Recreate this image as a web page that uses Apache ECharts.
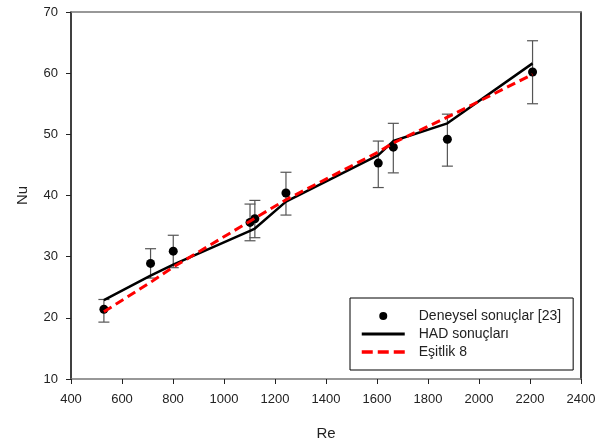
<!DOCTYPE html>
<html>
<head>
<meta charset="utf-8">
<script src="https://cdn.jsdelivr.net/npm/echarts@6/dist/echarts.min.js"></script>
<style>
  html, body { margin: 0; padding: 0; background: #fff; }
  #chart { width: 606px; height: 446px; }
</style>
</head>
<body>
<div id="chart"></div>
<script>
// Re değerleri
const reValues = [529, 712, 801, 1102, 1121, 1243, 1605, 1664, 1876, 2210]
// Deneysel sonuçlar ve hata çubukları
const nuExp = [21.4, 28.9, 30.9, 35.6, 36.2, 40.4, 45.3, 47.9, 49.2, 60.2]
const nuExpHigh = [23.0, 31.3, 33.5, 38.6, 39.2, 43.8, 48.9, 51.8, 53.3, 65.3]
const nuExpLow = [19.3, 26.5, 28.2, 32.6, 33.1, 36.8, 41.3, 43.7, 44.8, 55.0]
// HAD sonuçları
const nuHad = [22.9, 26.9, 28.7, 34.2, 34.6, 39.0, 46.6, 48.9, 51.8, 61.6]
// Eşitlik 8
const nuEq = [21.0, 25.8, 28.3, 35.8, 36.3, 39.3, 47.1, 48.6, 52.8, 59.8]

const xTicks = [400, 600, 800, 1000, 1200, 1400, 1600, 1800, 2000, 2200, 2400]
const yTicks = [10, 20, 30, 40, 50, 60, 70]

const chart = echarts.init(document.getElementById('chart'))

const labelStyle = { color: '#222', fontSize: 13, fontFamily: 'Liberation Sans, Arial' }

// hata çubukları
const errData = reValues.map((x, i) => [x, nuExpLow[i], nuExpHigh[i]])

const option = {
  animation: false,
  grid: { left: 71, right: 25, top: 12, bottom: 67 },
  legend: {
    orient: 'vertical',
    left: 350,
    top: 298,
    padding: [11, 12, 11, 10],
    itemWidth: 43,
    itemHeight: 8,
    itemGap: 4,
    borderColor: '#000',
    borderWidth: 1,
    textStyle: {
      color: '#222',
      fontSize: 14,
      fontFamily: 'Liberation Sans, Arial',
      lineHeight: 14,
      padding: [0, 0, 0, 9],
    },
    data: [
      { name: 'Deneysel sonuçlar [23]', icon: 'circle' },
      { name: 'HAD sonuçları', itemStyle: { opacity: 0 }, lineStyle: { width: 3 } },
      { name: 'Eşitlik 8', itemStyle: { opacity: 0 }, lineStyle: { width: 3.5, type: [11, 5] } },
    ],
  },
  xAxis: [
    {
      type: 'value',
      min: 400,
      max: 2400,
      interval: 200,
      name: 'Re',
      nameLocation: 'middle',
      nameGap: 47,
      nameTextStyle: { color: '#222', fontSize: 15, fontFamily: 'Liberation Sans, Arial' },
      axisLine: { lineStyle: { color: '#777', width: 1.5 } },
      axisTick: { length: 5, lineStyle: { color: '#222' } },
      axisLabel: { ...labelStyle, margin: 14, formatter: v => String(v) },
      splitLine: { show: false },
    },
    {
      type: 'value',
      position: 'top',
      min: 400,
      max: 2400,
      axisLine: { show: true, lineStyle: { color: '#777', width: 1.5 } },
      axisTick: { show: false },
      axisLabel: { show: false },
      splitLine: { show: false },
    },
  ],
  yAxis: [
    {
      type: 'value',
      min: 10,
      max: 70,
      interval: 10,
      name: 'Nu',
      nameLocation: 'middle',
      nameGap: 41,
      nameTextStyle: { color: '#222', fontSize: 15, fontFamily: 'Liberation Sans, Arial' },
      axisLine: { show: true, lineStyle: { color: '#000', width: 1.5 } },
      axisTick: { show: true, length: 5, lineStyle: { color: '#222' } },
      axisLabel: { ...labelStyle, margin: 13 },
      splitLine: { show: false },
    },
    {
      type: 'value',
      position: 'right',
      min: 10,
      max: 70,
      axisLine: { show: true, lineStyle: { color: '#000', width: 1.5 } },
      axisTick: { show: false },
      axisLabel: { show: false },
      splitLine: { show: false },
    },
  ],
  series: [
    {
      name: 'hata',
      type: 'custom',
      z: 1,
      data: errData,
      renderItem(params, api) {
        const x = api.value(0)
        const lo = api.coord([x, api.value(1)])
        const hi = api.coord([x, api.value(2)])
        const cap = 5.5
        const style = { stroke: '#555', lineWidth: 1.2 }
        return {
          type: 'group',
          children: [
            { type: 'line', shape: { x1: lo[0], y1: lo[1], x2: hi[0], y2: hi[1] }, style },
            { type: 'line', shape: { x1: hi[0] - cap, y1: hi[1], x2: hi[0] + cap, y2: hi[1] }, style },
            { type: 'line', shape: { x1: lo[0] - cap, y1: lo[1], x2: lo[0] + cap, y2: lo[1] }, style },
          ],
        }
      },
    },
    {
      name: 'Deneysel sonuçlar [23]',
      type: 'scatter',
      z: 2,
      symbol: 'circle',
      symbolSize: 9,
      itemStyle: { color: '#000', opacity: 1 },
      data: reValues.map((x, i) => [x, nuExp[i]]),
    },
    {
      name: 'HAD sonuçları',
      type: 'line',
      z: 3,
      showSymbol: false,
      symbol: 'none',
      lineStyle: { color: '#000', width: 2.5 },
      itemStyle: { color: '#000' },
      data: reValues.map((x, i) => [x, nuHad[i]]),
    },
    {
      name: 'Eşitlik 8',
      type: 'line',
      z: 4,
      showSymbol: false,
      symbol: 'none',
      lineStyle: { color: '#ff0000', width: 3, type: [9, 5] },
      itemStyle: { color: '#ff0000' },
      data: reValues.map((x, i) => [x, nuEq[i]]),
    },
  ],
}

chart.setOption(option)
</script>
</body>
</html>
